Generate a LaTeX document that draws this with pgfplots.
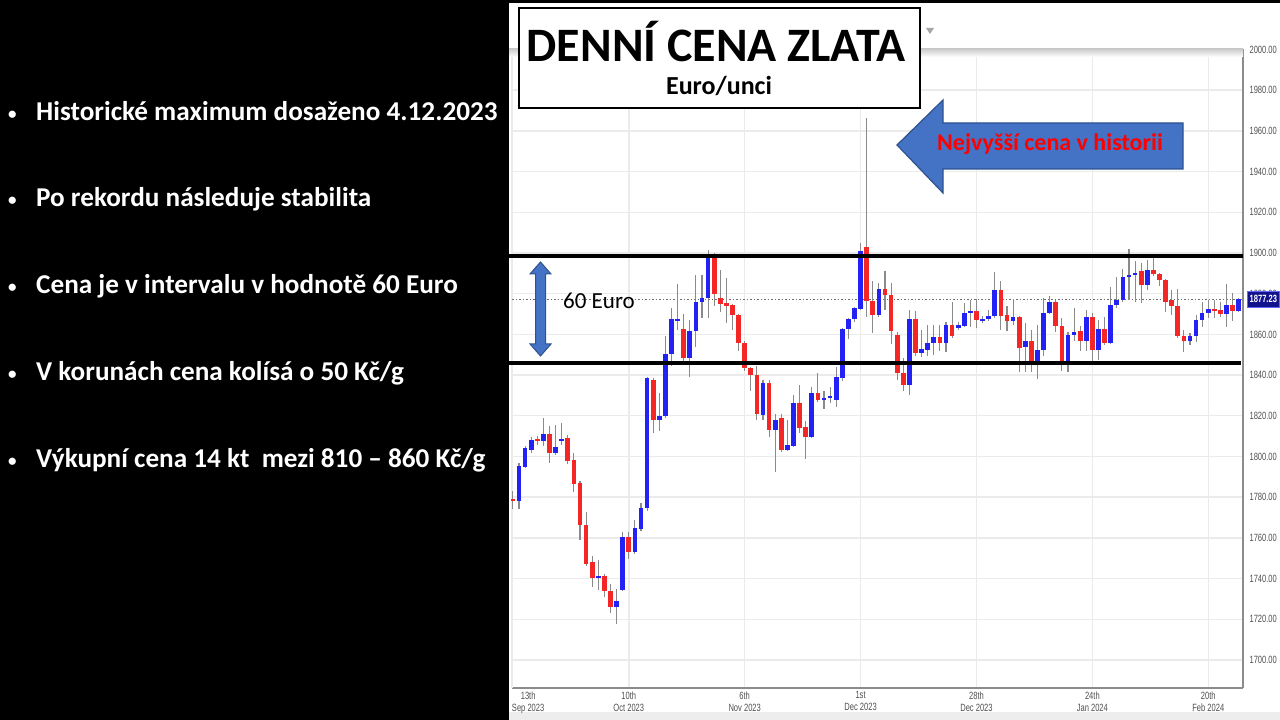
\documentclass[border=0pt]{standalone}
\usepackage{fontspec}
\usepackage{pgfplots}
\usepackage{pgfplotstable}
\pgfplotsset{compat=1.18}
\setmainfont{Carlito}
\newfontfamily\chartfont[FakeStretch=0.72]{Liberation Sans}

\definecolor{upblue}{HTML}{2222F4}
\definecolor{downred}{HTML}{F42626}
\definecolor{wickgray}{HTML}{8A8A8A}
\definecolor{gridgray}{HTML}{EBEBEB}
\definecolor{axisgray}{HTML}{8C8C8C}
\definecolor{labelgray}{HTML}{505050}
\definecolor{dotgray}{HTML}{6E6E6E}
\definecolor{arrowblue}{HTML}{4472C4}
\definecolor{arrowedge}{HTML}{2F528F}
\definecolor{pricenavy}{HTML}{12128C}

% daily gold price in EUR per ounce: index of trading day, open, high, low, close
\pgfplotstableread{
i o h l c
0 1779 1783 1774 1778
1 1778 1797 1774 1795.5
2 1795 1805 1794.5 1804
3 1803 1809.5 1801.5 1808
4 1808.5 1810 1805.5 1807.5
5 1807.5 1819 1805 1811
6 1811 1815 1797 1801.5
7 1801.5 1815.5 1800.5 1804.5
8 1807.5 1816.5 1805.5 1808.5
9 1809 1810.5 1796.5 1798
10 1798.5 1801.5 1782.5 1786.5
11 1787 1788 1759 1766.5
12 1766.5 1772.5 1746 1747
13 1748 1751 1736 1740.5
14 1740.5 1749 1734.5 1741.5
15 1741.5 1742.5 1731 1734
16 1734 1737.5 1723 1726
17 1726 1735 1717.5 1729
18 1734.5 1763 1734 1760.5
19 1760.5 1763 1749.5 1753
20 1753 1769 1752 1765
21 1764.5 1777 1763.5 1774.5
22 1774.5 1839 1773 1838.5
23 1837.5 1838.5 1811.5 1818
24 1818 1831 1812.5 1820
25 1820 1859 1819 1850.5
26 1850.5 1873 1844.5 1867.5
27 1867 1885 1862 1867.5
28 1862.5 1870 1845 1848.5
29 1848.5 1867 1839 1861.5
30 1861.5 1889 1854 1876
31 1876 1889 1868 1878
32 1878 1901.5 1868 1898
33 1898 1900 1874 1880
34 1878 1891.5 1871 1875
35 1875.5 1887.5 1865.5 1874
36 1874.5 1875 1862 1869.5
37 1869.5 1870 1852 1856
38 1856 1857 1842 1843.5
39 1843.5 1844 1832 1840
40 1840 1844.5 1818 1821
41 1820.5 1837.5 1818 1836
42 1836 1837.5 1809.5 1813
43 1813 1821 1792.5 1818
44 1819 1821 1802 1803
45 1803 1818 1802.5 1805.5
46 1805 1830 1804.5 1826.5
47 1826.5 1835 1811.5 1814
48 1814.5 1817.5 1799 1809.5
49 1809.5 1834 1809 1831
50 1831 1841 1827 1828
51 1828 1832 1823.5 1829
52 1828.5 1834 1826.5 1829.5
53 1828 1844 1824.5 1839
54 1838.5 1863 1837 1862.5
55 1862.5 1868 1857.5 1867.5
56 1867.5 1873.5 1866 1873
57 1872.5 1905 1872 1901
58 1903 1966.5 1868.5 1876.5
59 1876.5 1886 1860.5 1869.5
60 1869.5 1885.5 1868.5 1882.5
61 1882.5 1891 1872 1879.5
62 1879.5 1885.5 1855.5 1861.5
63 1859.5 1861 1837.5 1841
64 1841 1848.5 1832 1835
65 1835 1872 1830 1867.5
66 1867.5 1871.5 1849.5 1851
67 1851 1862 1849 1853
68 1852.5 1864.5 1849.5 1856
69 1856 1864.5 1850 1858.5
70 1858.5 1864.5 1852 1856
71 1856 1866 1851.5 1864.5
72 1864.5 1876 1858 1859
73 1863 1866 1862 1864.5
74 1864 1875.5 1863.5 1870.5
75 1870.5 1877 1863.5 1871.5
76 1871.5 1877.5 1863 1867
77 1866.5 1869 1865.5 1867.5
78 1867.5 1872 1866.5 1869
79 1869 1890.5 1868 1882
80 1882 1886 1862 1869
81 1869.5 1874 1861.5 1866.5
82 1866.5 1877.5 1864.5 1868.5
83 1868.5 1869 1841.5 1853.5
84 1854 1865.5 1841.5 1857
85 1857 1862 1841.5 1847
86 1847 1864.5 1838 1852.5
87 1852.5 1878 1849.5 1870.5
88 1870.5 1879 1870 1876
89 1876 1877 1861 1864
90 1864 1868 1842 1847
91 1847 1861 1841.5 1859.5
92 1859.5 1873 1857 1861
93 1861.5 1864 1852 1857
94 1857 1872 1852 1868.5
95 1868.5 1870.5 1847 1852.5
96 1852.5 1867 1847.5 1862.5
97 1862.5 1868.5 1855 1856
98 1856 1883.5 1855.5 1874.5
99 1874.5 1888 1873 1877
100 1877 1892 1876 1888
101 1888 1902 1877 1889
102 1889 1896 1876 1890
103 1891 1895 1875.5 1884.5
104 1884.5 1896.5 1882 1891.5
105 1891.5 1897.5 1888.5 1889.5
106 1889.5 1890 1884 1886.5
107 1886.5 1887 1871 1876
108 1877 1882 1869.5 1874
109 1874 1882.5 1858 1859
110 1859 1862 1851.5 1857
111 1857 1860.5 1855 1859
112 1859 1869.5 1856.5 1867
113 1867 1876 1863.5 1870.5
114 1870.5 1877 1868 1872.5
115 1872.5 1877 1868 1871.5
116 1872 1876 1868.5 1870
117 1870 1885 1863.5 1874.5
118 1874.5 1880.5 1866.5 1871.5
119 1871.5 1878 1871 1877.23
}\goldprice

\newcommand{\bulletline}[2]{%
  \node[anchor=base west, inner sep=0, text=white, font=\bfseries\fontsize{17}{20}\selectfont] at (8,#1+1.5) {•};
  \node[anchor=base west, inner sep=0, text=white, font=\bfseries\fontsize{27.2}{30}\selectfont] at (36,#1) {#2};
}

\begin{document}
\begin{tikzpicture}[x=1pt,y=1pt]
\path[use as bounding box] (0,0) rectangle (1280,720);
\fill[white] (0,0) rectangle (1280,720);
\fill[black] (0,0) rectangle (509,720);
\fill[black] (509,716.5) rectangle (1280,720);
\fill[gray!14] (509,0) rectangle (1280,8);

\begin{axis}[
  at={(512pt,32pt)}, anchor=south west,
  scale only axis, width=731pt, height=638.5pt,
  xmin=-0.15, xmax=119.7, ymin=1686.24, ymax=2000,
  axis x line*=bottom, axis y line*=right,
  axis line style={draw=axisgray, line width=1.6pt},
  xtick={19,38,57,76,95,114},
  xticklabels={{10th\\Oct 2023},{6th\\Nov 2023},{1st\\Dec 2023},{28th\\Dec 2023},{24th\\Jan 2024},{20th\\Feb 2024}},
  extra x ticks={2.5},
  extra x tick labels={{13th\\Sep 2023}},
  extra x tick style={grid=none},
  ytick={1700,1720,...,2000},
  major tick length=0pt,
  grid=major,
  major grid style={draw=gridgray, line width=1.4pt},
  tick label style={font=\chartfont\fontsize{10.5}{12}\selectfont, text=labelgray},
  xticklabel style={align=center},
  yticklabel style={xshift=3pt, /pgf/number format/fixed, /pgf/number format/fixed zerofill,
    /pgf/number format/precision=2, /pgf/number format/1000 sep={}},
  /pgf/number format/assume math mode=true,
  clip=false,
]
% left border of the plotting area
\addplot[gridgray, line width=1.4pt, forget plot] coordinates {(-0.15,1686.24) (-0.15,2000)};
% last price
\addplot[dotgray, line width=1pt, dash pattern=on 1.5pt off 2pt, forget plot]
  coordinates {(-0.15,1877.23) (119.7,1877.23)};
% wicks
\addplot[draw=none, mark=none, forget plot,
  error bars/.cd, y dir=both, y explicit, error mark=none,
  error bar style={draw=wickgray, line width=1.1pt, solid}]
  table[x=i, y expr={(\thisrow{h}+\thisrow{l})/2}, y error expr={(\thisrow{h}-\thisrow{l})/2}] {\goldprice};
% rising days
\addplot[draw=none, mark=none, forget plot,
  restrict expr to domain={\thisrow{c}-\thisrow{o}}{0:1000},
  error bars/.cd, y dir=both, y explicit, error mark=none,
  error bar style={draw=upblue, line width=4.7pt, solid}]
  table[x=i, y expr={(\thisrow{o}+\thisrow{c})/2}, y error expr={max(abs(\thisrow{c}-\thisrow{o})/2,0.45)}] {\goldprice};
% falling days
\addplot[draw=none, mark=none, forget plot,
  restrict expr to domain={\thisrow{c}-\thisrow{o}}{-1000:-0.001},
  error bars/.cd, y dir=both, y explicit, error mark=none,
  error bar style={draw=downred, line width=4.7pt, solid}]
  table[x=i, y expr={(\thisrow{o}+\thisrow{c})/2}, y error expr={max(abs(\thisrow{c}-\thisrow{o})/2,0.45)}] {\goldprice};
% trading range
\addplot[black, line width=4pt, forget plot] coordinates {(-0.8,1898.7) (119.7,1898.7)};
\addplot[black, line width=4pt, forget plot] coordinates {(-0.8,1846.1) (119.4,1846.1)};
% last price tag
\node[fill=pricenavy, draw=blue!60, line width=0.6pt, text=white, anchor=west, inner sep=0,
  minimum width=32pt, minimum height=16pt, font=\chartfont\bfseries\fontsize{10.5}{12}\selectfont]
  at (axis cs:119.7,1877.23) [xshift=4pt] {1877.23};
\end{axis}

% toolbar shadow above the plot
\shade[top color=gray!40, bottom color=white] (509,663) rectangle (1243,671);
\fill[gray!70] (926,692) -- (934,692) -- (930,686) -- cycle;

% title box
\draw[fill=white, line width=1.3pt] (519,612) rectangle (920,712);
\node[anchor=base, inner sep=0, font=\bfseries\fontsize{48}{50}\selectfont] at (716,658) {DENNÍ CENA ZLATA};
\node[anchor=base, inner sep=0, font=\bfseries\fontsize{26}{28}\selectfont] at (719,625) {Euro/unci};

% 60 euro band marker
\draw[fill=arrowblue, draw=arrowedge, line width=1pt]
  (540.5,458) -- (551,446) -- (545.5,446) -- (545.5,376) -- (551,376) -- (540.5,364)
  -- (530,376) -- (535.5,376) -- (535.5,446) -- (530,446) -- cycle;
\node[anchor=base west, inner sep=0, font=\fontsize{23}{26}\selectfont] at (563,411) {60 Euro};

% all-time high callout
\draw[fill=arrowblue, draw=arrowedge, line width=1.2pt]
  (897,575) -- (943,620) -- (943,597) -- (1183,597) -- (1183,551) -- (943,551) -- (943,527) -- cycle;
\node[anchor=base, inner sep=0, text=red, font=\bfseries\fontsize{24}{28}\selectfont] at (1050,569) {Nejvyšší cena v historii};

% bullet points
\bulletline{599}{Historické maximum dosaženo 4.12.2023}
\bulletline{513}{Po rekordu následuje stabilita}
\bulletline{426}{Cena je v intervalu v hodnotě 60 Euro}
\bulletline{339}{V korunách cena kolísá o 50 Kč/g}
\bulletline{252}{Výkupní cena 14 kt\ \ mezi 810 – 860 Kč/g}
\end{tikzpicture}
\end{document}
